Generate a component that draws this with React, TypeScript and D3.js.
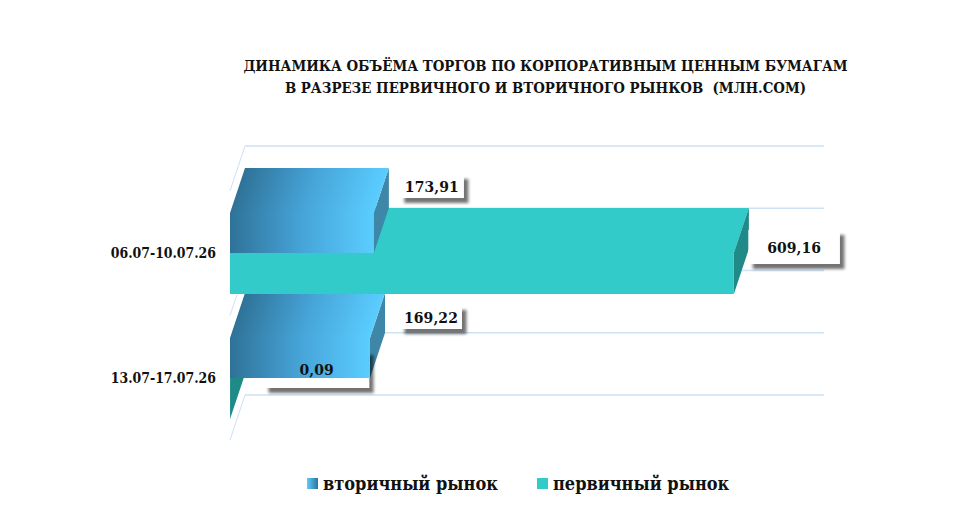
import { useEffect } from 'react';
import * as d3 from 'd3';

const WIDTH = 967;
const HEIGHT = 518;

const categories = ['06.07-10.07.26', '13.07-17.07.26'];
const seriesNames = ['вторичный рынок', 'первичный рынок'];
const secondaryValues = [173.91, 169.22];
const primaryValues = [609.16, 0.09];
const valueLabels = [['173,91', '609,16'], ['169,22', '0,09']];
const gridTicks = [0, 1, 2, 3, 4];
const titleLines = [
  'ДИНАМИКА ОБЪЁМА ТОРГОВ ПО КОРПОРАТИВНЫМ ЦЕННЫМ БУМАГАМ',
  'В РАЗРЕЗЕ ПЕРВИЧНОГО И ВТОРИЧНОГО РЫНКОВ  (МЛН.СОМ)',
];

const FONT = '"DejaVu Serif Condensed", "DejaVu Serif", serif';
const DEPTH_X = 15;
const DEPTH_Y = 45;

const x = d3.scaleLinear().domain([0, 700]).range([230, 809]);
const band = d3.scaleBand<string>().domain(categories).range([190, 440]);
const inner = d3.scaleBand<string>().domain(seriesNames).range([22.5, 103.5]);
const grid = d3.scaleLinear().domain([0, 4]).range([146, 395]);

// label boxes are placed relative to the bottom right corner of their bar
const boxes = [
  [{ dx: 26, dy: -79, w: 64, h: 24 }, { dx: 14.5, dy: -64, w: 91.5, h: 34 }],
  [{ dx: 30, dy: -73, w: 62, h: 24 }, { dx: 34, dy: -69, w: 105, h: 38 }],
];

const barTop = (cat: string, name: string) => Math.round((band(cat) ?? 0) + (inner(name) ?? 0));
const barBottom = (cat: string, name: string) =>
  Math.round((band(cat) ?? 0) + (inner(name) ?? 0) + inner.bandwidth());

function poly(pts: [number, number][]) {
  return d3.line()(pts) + 'Z';
}

function SideFace({ cat, name, value, fill }: { cat: string; name: string; value: number; fill: string }) {
  const y0 = barTop(cat, name);
  const y1 = barBottom(cat, name);
  const x1 = x(value);
  return <path d={poly([[x1, y0], [x1 + DEPTH_X, y0 - DEPTH_Y], [x1 + DEPTH_X, y1 - DEPTH_Y], [x1, y1]])} fill={fill} />;
}

function TopFace({ cat, name, value, fill }: { cat: string; name: string; value: number; fill: string }) {
  const y0 = barTop(cat, name);
  const x0 = x(0);
  const x1 = x(value);
  return <path d={poly([[x0, y0], [x0 + DEPTH_X, y0 - DEPTH_Y], [x1 + DEPTH_X, y0 - DEPTH_Y], [x1, y0]])} fill={fill} />;
}

function FrontFace({ cat, name, value, fill }: { cat: string; name: string; value: number; fill: string }) {
  const y0 = barTop(cat, name);
  return <rect x={x(0)} y={y0} width={x(value) - x(0)} height={barBottom(cat, name) - y0} fill={fill} />;
}

// the top face gradient leans with the depth direction so it meets the front face without a seam
function SkewGradient({ id, cat, name, value }: { id: string; cat: string; name: string; value: number }) {
  const y0 = barTop(cat, name);
  const w = x(value) - x(0);
  const len2 = DEPTH_Y * DEPTH_Y + DEPTH_X * DEPTH_X;
  const k = (w * DEPTH_Y) / len2;
  return (
    <linearGradient id={id} gradientUnits="userSpaceOnUse" x1={x(0)} y1={y0} x2={x(0) + DEPTH_Y * k} y2={y0 + DEPTH_X * k}>
      <stop offset="0" stopColor="#2f7298" />
      <stop offset="0.5" stopColor="#46a4d8" />
      <stop offset="1" stopColor="#5bcdff" />
    </linearGradient>
  );
}

function LabelBox({ ci, si, value }: { ci: number; si: number; value: number }) {
  const b = boxes[ci][si];
  const bottom = barBottom(categories[ci], seriesNames[si]);
  return <rect x={x(value) + b.dx} y={bottom + b.dy} width={b.w} height={b.h} fill="#fff" filter="url(#labelShadow)" />;
}

function LabelText({ ci, si, value }: { ci: number; si: number; value: number }) {
  const b = boxes[ci][si];
  const bottom = barBottom(categories[ci], seriesNames[si]);
  return (
    <text x={x(value) + b.dx + b.w / 2} y={bottom + b.dy + b.h / 2} dy="0.36em" textAnchor="middle" fontFamily={FONT} fontWeight="bold" fontSize={15.5} letterSpacing={0.1} fill="#111">
      {valueLabels[ci][si]}
    </text>
  );
}

export default function App() {
  useEffect(() => {
    document.body.style.margin = '0';
  }, []);

  const blue = seriesNames[0];
  const teal = seriesNames[1];
  const blueSide = '#3e87a8';
  const tealSide = '#1f8a87';
  const tealFace = '#32cbc9';

  return (
    <svg width={WIDTH} height={HEIGHT} style={{ display: 'block', background: '#fff' }}>
      <defs>
        <linearGradient id="blueFace" x1="0" x2="1" y1="0" y2="0">
          <stop offset="0" stopColor="#2f7298" />
          <stop offset="0.5" stopColor="#46a4d8" />
          <stop offset="1" stopColor="#5bcdff" />
        </linearGradient>
        <SkewGradient id="blueTop0" cat={categories[0]} name={blue} value={secondaryValues[0]} />
        <SkewGradient id="blueTop1" cat={categories[1]} name={blue} value={secondaryValues[1]} />
        <linearGradient id="legendBlue" x1="0" x2="1" y1="0" y2="0">
          <stop offset="0" stopColor="#5bcdff" />
          <stop offset="1" stopColor="#2f7298" />
        </linearGradient>
        <filter id="labelShadow" x="-20%" y="-30%" width="150%" height="170%">
          <feDropShadow dx="4.5" dy="5" stdDeviation="1.6" floodColor="#000" floodOpacity="0.55" />
        </filter>
      </defs>

      {titleLines.map((line, i) => (
        <text key={i} x={545.5} y={71 + i * 21.5} textAnchor="middle" fontFamily={FONT} fontWeight="bold" fontSize={14.85} fill="#111" style={{ whiteSpace: 'pre' }}>
          {line}
        </text>
      ))}

      {gridTicks.map(t => (
        <g key={t} stroke="#cfe2f3" fill="none">
          <line x1={x(0) + DEPTH_X} x2={824} y1={grid(t)} y2={grid(t)} strokeWidth={1.3} />
          <line x1={x(0) + DEPTH_X} x2={x(0)} y1={grid(t)} y2={grid(t) + DEPTH_Y} strokeWidth={1} />
        </g>
      ))}

      {/* lower category first, upper one overlaps it */}
      <TopFace cat={categories[1]} name={teal} value={primaryValues[1]} fill={tealFace} />
      <SideFace cat={categories[1]} name={teal} value={primaryValues[1]} fill={tealSide} />
      <FrontFace cat={categories[1]} name={teal} value={primaryValues[1]} fill={tealFace} />
      <SideFace cat={categories[1]} name={blue} value={secondaryValues[1]} fill={blueSide} />
      <LabelBox ci={1} si={1} value={primaryValues[1]} />
      <TopFace cat={categories[1]} name={blue} value={secondaryValues[1]} fill="url(#blueTop1)" />
      <FrontFace cat={categories[1]} name={blue} value={secondaryValues[1]} fill="url(#blueFace)" />
      <LabelText ci={1} si={1} value={primaryValues[1]} />
      <LabelBox ci={1} si={0} value={secondaryValues[1]} />
      <LabelText ci={1} si={0} value={secondaryValues[1]} />

      <TopFace cat={categories[0]} name={teal} value={primaryValues[0]} fill={tealFace} />
      <SideFace cat={categories[0]} name={teal} value={primaryValues[0]} fill={tealSide} />
      <FrontFace cat={categories[0]} name={teal} value={primaryValues[0]} fill={tealFace} />
      <SideFace cat={categories[0]} name={blue} value={secondaryValues[0]} fill={blueSide} />
      <TopFace cat={categories[0]} name={blue} value={secondaryValues[0]} fill="url(#blueTop0)" />
      <FrontFace cat={categories[0]} name={blue} value={secondaryValues[0]} fill="url(#blueFace)" />
      <LabelBox ci={0} si={0} value={secondaryValues[0]} />
      <LabelText ci={0} si={0} value={secondaryValues[0]} />
      <LabelBox ci={0} si={1} value={primaryValues[0]} />
      <LabelText ci={0} si={1} value={primaryValues[0]} />

      {categories.map(c => (
        <text key={c} x={216} y={(band(c) ?? 0) + band.bandwidth() / 2} dy="0.36em" textAnchor="end" fontFamily={FONT} fontWeight="bold" fontSize={13.9} fill="#111">
          {c}
        </text>
      ))}

      <g fontFamily={FONT} fontWeight="bold" fontSize={18} fill="#111">
        <rect x={307} y={478} width={11} height={11} fill="url(#legendBlue)" />
        <text x={323} y={484} dy="0.36em">{seriesNames[0]}</text>
        <rect x={537} y={478} width={11} height={11} fill={tealFace} />
        <text x={553} y={484} dy="0.36em">{seriesNames[1]}</text>
      </g>
    </svg>
  );
}
